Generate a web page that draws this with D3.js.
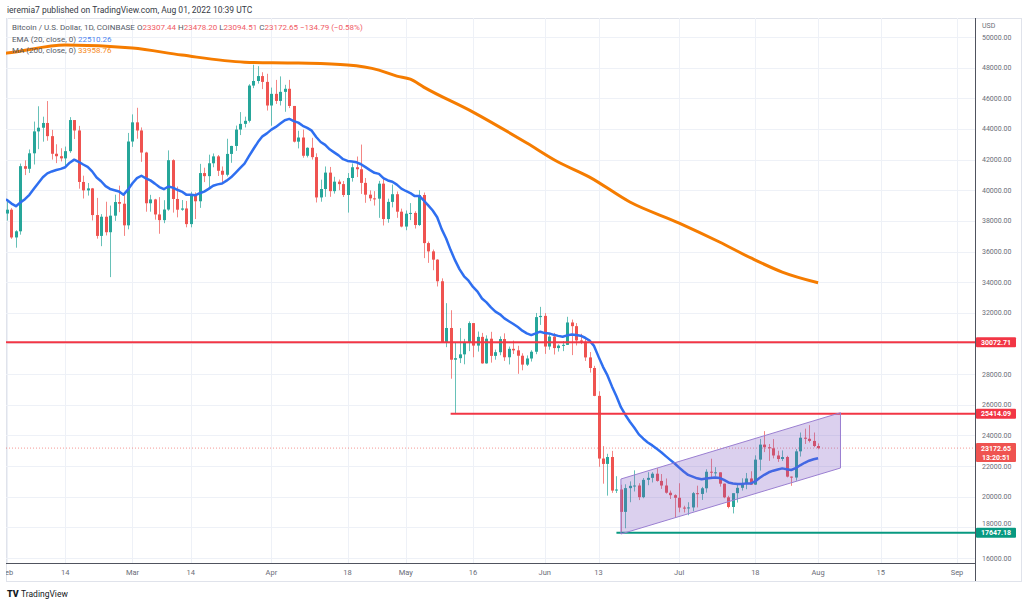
<!doctype html>
<html lang="en">
<head>
  <meta charset="utf-8">
  <title>BTCUSD daily, TradingView snapshot</title>
  <script src="https://d3js.org/d3.v7.min.js"></script>
  <style>
    body { margin: 0; background: #fff; }
    svg { display: block; font-family: Roboto, 'Noto Sans', sans-serif; }
  </style>
</head>
<body>
  <div id="chart"></div>
  <script>
    // daily candles, first bar is Jan 30 2022, one bar per day up to Aug 01 2022
    var firstDay = '2022-01-30';
    var open = [37900,37920,38480,38730,36920,37320,41570,41400,42410,43840,44080,44390,43530,42380,42220,
      42080,42550,44580,43900,40540,39990,40120,38380,37020,38270,37260,38340,39230,39120,37710,
      43180,44430,43900,42460,39150,39400,38420,38050,38740,41960,39430,38730,38810,37790,39670,
      39280,41120,40920,41760,42210,41270,41010,42370,42890,43960,44330,44530,46830,47130,47450,
      47070,45530,46290,45830,46420,46620,45500,43170,43440,42250,42770,42160,39530,40080,41150,
      39940,40560,40400,39690,40800,41500,41370,40480,39710,39470,39450,40430,38120,39240,39740,
      38600,37630,38470,38520,37730,39690,36550,36010,35470,34060,30080,31010,28940,29040,29290,
      30090,31330,29860,30430,28700,30310,29190,29430,30290,29100,29650,29550,29200,28620,29020,
      29460,31720,31800,29800,30450,29700,29860,29910,31370,31130,30200,30110,29090,28400,26580,
      22490,22140,22590,20400,20470,19010,20560,20710,20730,19970,21100,21230,21500,21030,20730,
      20260,20100,19930,19290,19250,19300,20230,20180,20550,21630,21590,21590,20850,19960,19330,
      20230,20580,20830,21190,20790,22420,23400,23230,23160,22690,22460,22590,21310,21250,22960,
      23850,23780,23640,23307.44];
    var high = [38360,38740,39260,38830,37390,41740,41950,42660,44480,45480,44800,45820,43940,43000,42740,
      42850,44770,44580,44200,40950,40470,40150,39500,38440,39250,39000,39710,40300,39880,43740,
      44950,45380,44100,42510,39700,39440,39550,39350,42600,42020,40240,39360,39300,39900,39860,
      41720,41470,42320,42400,42300,41550,43360,42900,44220,45100,44800,46920,48190,48100,47700,
      47600,46700,47200,47430,46880,47200,45500,43880,43960,42800,43420,42410,40690,41550,41520,
      40880,40700,40600,41120,41750,42200,42980,40800,39990,39940,40610,40800,39450,40370,39920,
      38800,38680,39160,38630,40000,39850,36650,36130,35500,34250,32630,32170,30040,31000,30300,
      31440,31330,30780,30690,30530,30760,29600,30460,30660,29800,30190,29850,29360,29220,29560,
      31990,32390,31980,30640,30690,29940,30160,31740,31560,31330,30630,30350,29440,28540,26880,
      23300,22800,22990,21340,20780,20810,21000,21720,20880,21220,21600,21600,21860,21480,21190,
      20400,20160,20880,19410,19640,20310,20720,20640,21790,22480,21930,21600,20860,20060,20220,
      20880,21200,21550,21660,22700,23770,24280,23440,23760,23000,23020,22670,21320,23110,24190,
      24440,24670,24190,23478.20];
    var low = [37350,36650,38020,36830,36250,37100,40990,41130,41680,42680,43170,43230,42000,41770,41880,
      41580,42440,43340,40100,39460,39650,38030,36840,36350,37050,34330,38000,38570,37020,37450,
      42830,43360,41850,38600,38600,38080,37160,37850,38660,38540,38230,38660,37580,37580,38120,
      38850,40530,40140,41500,40930,40510,40900,41790,42570,43600,44100,44420,46660,46960,46600,
      45200,44210,45630,45530,45120,45360,43120,42730,42120,42140,42000,39200,39250,39570,39570,
      39780,40000,39560,38540,40560,40860,39760,39180,39290,39000,38200,37700,37880,38880,38200,
      37580,37390,38050,37500,37670,35570,35260,34780,33720,30050,29760,27700,25401,28720,28640,
      29500,29100,29470,28680,28680,28750,28940,29230,28860,28630,29310,28020,28250,28530,28820,
      29300,31210,29320,29590,29280,29470,29500,29900,29240,29870,29960,28860,28100,26560,21950,
      20850,20070,20250,20240,17647,17940,19640,20340,19780,19900,20750,20930,20980,20510,20200,
      19850,18620,18980,18970,18790,19050,19300,19790,20270,21190,21320,20660,19900,19240,18910,
      19620,20400,20490,20770,20770,21700,22910,22340,22500,22270,22330,21260,20710,21050,22620,
      23440,23540,23230,23094.51];
    var close = [37920,38480,38730,36920,37320,41570,41400,42410,43840,44080,44390,43530,42380,42220,42080,
      42550,44580,43900,40540,39990,40120,38380,37020,38270,37260,38340,39230,39120,37710,43180,
      44430,43900,42460,39150,39400,38420,38050,38740,41960,39430,38730,38810,37790,39670,39280,
      41120,40920,41760,42210,41270,41010,42370,42890,43960,44330,44530,46830,47130,47450,47070,
      45530,46290,45830,46420,46620,45500,43170,43440,42250,42770,42160,39530,40080,41150,39940,
      40560,40400,39690,40800,41500,41370,40480,39710,39470,39450,40430,38120,39240,39740,38600,
      37630,38470,38520,37730,39690,36550,36010,35470,34060,30080,31010,28940,29040,29290,30090,
      31330,29860,30430,28700,30310,29190,29430,30290,29100,29650,29550,29200,28620,29020,29460,
      31720,31800,29800,30450,29700,29860,29910,31370,31130,30200,30110,29090,28400,26580,22490,
      22140,22590,20400,20470,19010,20560,20710,20730,19970,21100,21230,21500,21030,20730,20260,
      20100,19930,19290,19250,19300,20230,20180,20550,21630,21590,21590,20850,19960,19330,20230,
      20580,20830,21190,20790,22420,23400,23230,23160,22690,22460,22590,21310,21250,22960,23850,
      23780,23640,23307.44,23172.65];

    // EMA(20) running value on the day before the first bar
    var emaSeed = 39700;

    // MA(200)
    var maDates = ['2022-01-30','2022-02-01','2022-02-14','2022-03-01','2022-03-12','2022-03-26','2022-04-07',
      '2022-04-18','2022-04-25','2022-04-29','2022-05-02','2022-05-05','2022-05-16','2022-05-28','2022-06-04',
      '2022-06-11','2022-06-20','2022-07-01','2022-07-10','2022-07-17','2022-07-24','2022-08-01'];
    var maValues = [48900,48950,49470,49280,48820,48360,48300,48170,47840,47450,47250,46730,45100,43080,41840,
      40860,39230,37860,36620,35580,34660,33959];

    // drawn levels and channel
    var levels = [
      {from: '2022-01-01', value: 30072.71, color: '#f23645'},
      {from: '2022-05-11', value: 25414.09, color: '#f23645'},
      {from: '2022-06-17', value: 17647.18, color: '#089981'}
    ];
    var channelDates = ['2022-06-18', '2022-08-06'];
    var channelTop = [21155, 25481];
    var channelBottom = [17566, 21873];

    var priceTicks = d3.range(16000, 50001, 2000);
    var timeTicks = ['2022-02-01','2022-02-14','2022-03-01','2022-03-14','2022-04-01','2022-04-18','2022-05-01',
      '2022-05-16','2022-06-01','2022-06-13','2022-07-01','2022-07-18','2022-08-01','2022-08-15','2022-09-01'];
    var timeLabels = ['Feb','14','Mar','14','Apr','18','May','16','Jun','13','Jul','18','Aug','15','Sep'];

    var width = 1024, height = 605;
    var paneLeft = 6, paneRight = 975, paneTop = 18, paneBottom = 563, frameBottom = 581;
    var up = '#26a69a', down = '#ef5350';
    var parse = d3.utcParse('%Y-%m-%d');

    var x = d3.scaleUtc()
      .domain([parse('2022-02-01'), parse('2022-09-01')])
      .range([7, 957]);
    var y = d3.scaleLinear()
      .domain([16000, 50000])
      .range([558, 37]);

    var start = parse(firstDay);
    var bars = close.map(function(c, i) {
      return {date: d3.utcDay.offset(start, i), o: open[i], h: high[i], l: low[i], c: c};
    });
    var e = emaSeed;
    bars.forEach(function(d) { e = e + (d.c - e) * 2 / 21; d.ema = e; });
    var last = bars[bars.length - 1];

    var svg = d3.select('#chart').append('svg')
      .attr('width', width)
      .attr('height', height);

    svg.append('rect').attr('width', width).attr('height', height).attr('fill', '#fff');

    var defs = svg.append('defs');
    defs.append('clipPath').attr('id', 'pane')
      .append('rect')
      .attr('x', paneLeft).attr('y', paneTop)
      .attr('width', paneRight - paneLeft).attr('height', paneBottom - paneTop);
    defs.append('clipPath').attr('id', 'timeaxis')
      .append('rect').attr('x', paneLeft).attr('y', paneBottom)
      .attr('width', paneRight - paneLeft).attr('height', frameBottom - paneBottom);

    // header
    svg.append('text')
      .attr('x', 7).attr('y', 13)
      .style('font-size', '8.5px').attr('fill', '#363a45')
      .text('ieremia7 published on TradingView.com, Aug 01, 2022 10:39 UTC');

    // frame
    svg.append('rect')
      .attr('x', paneLeft + 0.5).attr('y', paneTop + 0.5)
      .attr('width', width - paneLeft - 3).attr('height', frameBottom - paneTop)
      .attr('fill', 'none').attr('stroke', '#e0e3eb');

    // grid
    var grid = svg.append('g').attr('clip-path', 'url(#pane)');
    grid.selectAll('.hg').data(priceTicks).enter().append('line')
      .attr('x1', paneLeft).attr('x2', paneRight)
      .attr('y1', function(d) { return Math.round(y(d)) + 0.5; })
      .attr('y2', function(d) { return Math.round(y(d)) + 0.5; })
      .attr('stroke', '#eef1f7');
    grid.selectAll('.vg').data(timeTicks).enter().append('line')
      .attr('x1', function(d) { return Math.round(x(parse(d))) + 0.5; })
      .attr('x2', function(d) { return Math.round(x(parse(d))) + 0.5; })
      .attr('y1', paneTop).attr('y2', paneBottom)
      .attr('stroke', '#eef1f7');

    var plot = svg.append('g').attr('clip-path', 'url(#pane)');

    // current price line
    plot.append('line')
      .attr('x1', paneLeft).attr('x2', paneRight)
      .attr('y1', y(last.c)).attr('y2', y(last.c))
      .attr('stroke', '#ef5350').attr('stroke-opacity', 0.6)
      .attr('stroke-dasharray', '1,2');

    // MA 200
    plot.append('path')
      .datum(maDates.map(function(d, i) { return [parse(d), maValues[i]]; }))
      .attr('fill', 'none').attr('stroke', '#f57c00').attr('stroke-width', 3)
      .attr('d', d3.line()
        .x(function(d) { return x(d[0]); })
        .y(function(d) { return y(d[1]); })
        .curve(d3.curveMonotoneX));

    // candles
    var candle = plot.selectAll('.candle').data(bars).enter().append('g');
    candle.append('line')
      .attr('x1', function(d) { return Math.round(x(d.date)) + 0.5; })
      .attr('x2', function(d) { return Math.round(x(d.date)) + 0.5; })
      .attr('y1', function(d) { return y(d.h); })
      .attr('y2', function(d) { return y(d.l); })
      .attr('stroke', function(d) { return d.c >= d.o ? up : down; })
      .attr('stroke-opacity', 0.7);
    candle.append('rect')
      .attr('x', function(d) { return Math.round(x(d.date)) - 1; })
      .attr('width', 3)
      .attr('y', function(d) { return y(Math.max(d.o, d.c)); })
      .attr('height', function(d) { return Math.max(1, Math.abs(y(d.o) - y(d.c))); })
      .attr('fill', function(d) { return d.c >= d.o ? up : down; });

    // EMA 20
    plot.append('path')
      .datum(bars)
      .attr('fill', 'none').attr('stroke', '#2f6ff0').attr('stroke-width', 2.5)
      .attr('stroke-linejoin', 'round')
      .attr('d', d3.line()
        .x(function(d) { return x(d.date); })
        .y(function(d) { return y(d.ema); }));

    // horizontal levels
    plot.selectAll('.level').data(levels).enter().append('line')
      .attr('x1', function(d) { return Math.max(paneLeft, x(parse(d.from))); })
      .attr('x2', paneRight)
      .attr('y1', function(d) { return y(d.value); })
      .attr('y2', function(d) { return y(d.value); })
      .attr('stroke', function(d) { return d.color; })
      .attr('stroke-width', 2);

    // parallel channel
    var poly = [
      [x(parse(channelDates[0])), y(channelTop[0])],
      [x(parse(channelDates[1])), y(channelTop[1])],
      [x(parse(channelDates[1])), y(channelBottom[1])],
      [x(parse(channelDates[0])), y(channelBottom[0])]
    ];
    plot.append('polygon')
      .attr('points', poly.map(function(p) { return p.join(','); }).join(' '))
      .attr('fill', 'rgba(126,87,194,0.28)')
      .attr('stroke', '#9a7fd1').attr('stroke-width', 1);

    // axes lines
    svg.append('line')
      .attr('x1', paneLeft).attr('x2', paneRight + 0.5)
      .attr('y1', paneBottom + 0.5).attr('y2', paneBottom + 0.5)
      .attr('stroke', '#50535e');
    svg.append('line')
      .attr('x1', paneRight + 0.5).attr('x2', paneRight + 0.5)
      .attr('y1', paneTop).attr('y2', frameBottom)
      .attr('stroke', '#50535e');

    // time axis labels
    var tl = svg.append('g').attr('clip-path', 'url(#timeaxis)');
    tl.selectAll('text').data(timeTicks).enter().append('text')
      .attr('x', function(d) { return x(parse(d)); })
      .attr('y', 575)
      .attr('text-anchor', 'middle')
      .style('font-size', '7.5px').attr('fill', '#6a6d78')
      .text(function(d, i) { return timeLabels[i]; });

    // price tags on the axis: value levels plus the last price with countdown
    var tags = levels.map(function(d) {
      return {value: d.value, color: d.color, lines: [d3.format('.2f')(d.value)]};
    });
    tags.push({value: last.c, color: '#ef5350', lines: [d3.format('.2f')(last.c), '13:20:51']});
    tags.forEach(function(t) {
      var cy = y(t.value);
      t.h = t.lines.length > 1 ? 19 : 10;
      t.top = t.lines.length > 1 ? cy - 5 : cy - t.h / 2;
    });

    // price axis labels, hidden under a tag or nudged clear of it
    var pa = svg.append('g');
    pa.append('text').attr('x', 982).attr('y', 28)
      .style('font-size', '7px').attr('fill', '#6a6d78').text('USD');
    priceTicks.forEach(function(v) {
      var base = y(v) + 2.5;
      var hidden = false;
      tags.forEach(function(t) {
        var ty = t.top + t.h / 2;
        if (Math.abs(ty - y(v)) < 3) hidden = true;
        else if (y(v) < ty && base + 1.5 > t.top) base = t.top - 1.5;
        else if (y(v) > ty && base - 5.5 < t.top + t.h) base = t.top + t.h + 5.5;
      });
      if (hidden) return;
      pa.append('text')
        .attr('x', 982).attr('y', base)
        .style('font-size', '7px').attr('fill', '#6a6d78')
        .text(d3.format('.2f')(v));
    });

    tags.forEach(function(t) {
      var g = svg.append('g');
      g.append('rect').attr('x', 976).attr('y', t.top)
        .attr('width', 40).attr('height', t.h).attr('rx', 1)
        .attr('fill', t.color);
      t.lines.forEach(function(s, i) {
        g.append('text').attr('x', 996).attr('y', t.top + 7.5 + i * 9)
          .attr('text-anchor', 'middle')
          .style('font-size', '7px').style('font-weight', 'bold').attr('fill', '#fff')
          .text(s);
      });
    });

    // legend
    var legend = svg.append('g').style('font-size', '8px');
    var l1 = legend.append('text').attr('x', 12).attr('y', 30).attr('fill', '#555a66');
    l1.append('tspan').text('Bitcoin / U.S. Dollar, 1D, COINBASE  ');
    [['O', last.o], ['H', last.h], ['L', last.l], ['C', last.c]].forEach(function(p) {
      l1.append('tspan').attr('fill', '#555a66').text(p[0]);
      l1.append('tspan').attr('fill', '#f05a64').text(d3.format('.2f')(p[1]) + '  ');
    });
    var chg = last.c - close[close.length - 2];
    l1.append('tspan').attr('fill', '#f05a64')
      .text(d3.format('.2f')(chg).replace('-', '\u2212') + ' (' +
        d3.format('.2f')(chg / close[close.length - 2] * 100).replace('-', '\u2212') + '%)');

    var l2 = legend.append('text').attr('x', 12).attr('y', 42).attr('fill', '#555a66');
    l2.append('tspan').text('EMA (20, close, 0)  ');
    l2.append('tspan').attr('fill', '#4f86f0').text('22510.26');
    var l3 = legend.append('text').attr('x', 12).attr('y', 53).attr('fill', '#555a66');
    l3.append('tspan').text('MA (200, close, 0)  ');
    l3.append('tspan').attr('fill', '#f58a1f').text(d3.format('.2f')(33958.76));

    // footer logo
    var foot = svg.append('g');
    foot.append('text').attr('x', 7).attr('y', 597)
      .style('font-size', '9px').style('font-weight', '900').attr('fill', '#131722')
      .text('TV');
    foot.append('text').attr('x', 21).attr('y', 597)
      .style('font-size', '8.5px').attr('fill', '#131722')
      .text('TradingView');
  </script>
</body>
</html>
